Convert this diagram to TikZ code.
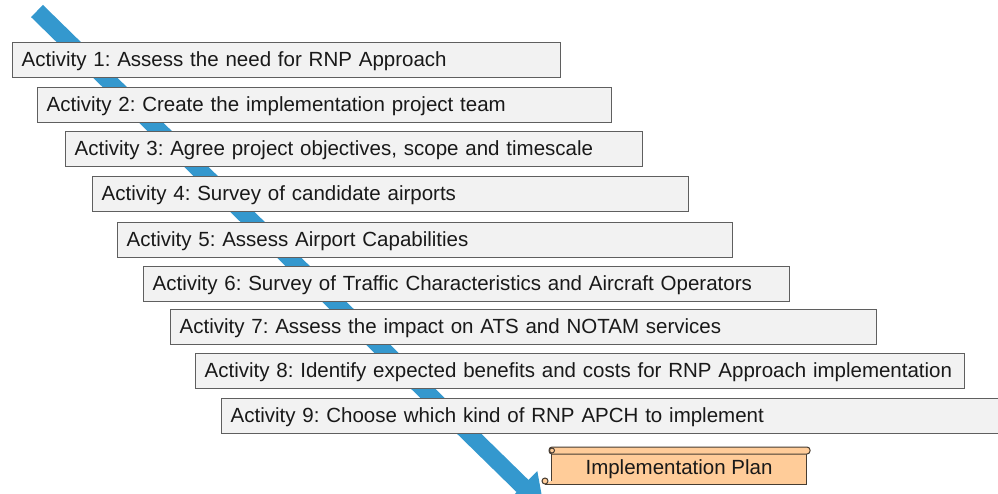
\documentclass[tikz,border=0pt]{standalone}
\usepackage{fontspec}
\setmainfont{Liberation Sans}
\usetikzlibrary{arrows.meta}
\definecolor{flowblue}{RGB}{52,152,206}
\definecolor{boxfill}{RGB}{242,242,242}
\definecolor{boxline}{RGB}{95,95,95}
\definecolor{textc}{RGB}{25,25,25}
\definecolor{peach}{RGB}{255,204,153}
\definecolor{scrollline}{RGB}{70,60,50}
\begin{document}
\frenchspacing
\begin{tikzpicture}[x=1pt,y=-1pt,
  actbox/.style={draw=boxline, fill=boxfill, line width=1.3pt, anchor=north west,
    inner xsep=9pt, inner ysep=0pt, minimum height=34.5pt, align=left,
    text height=15pt, text depth=1pt,
    font=\fontsize{20.5}{24}\selectfont, text=textc},
  scrollpart/.style={draw=scrollline, fill=peach, line width=1pt},
  plantext/.style={font=\fontsize{20.5}{24}\selectfont, text=textc, inner sep=0pt,
    text height=15pt, text depth=1pt}]
\useasboundingbox (0,0) rectangle (998,493);
\clip (0,0) rectangle (998,493);
\coordinate (arrstart) at (37,11);
\coordinate (arrtip) at (544,507);
\draw[flowblue, line width=17pt, -{Triangle[width=40pt,length=30pt]}] (arrstart) -- (arrtip);

\node[actbox, text width=530pt] (a1) at (12,42)  {Activity 1: Assess the need for RNP Approach};
\node[actbox, text width=556pt] (a2) at (37,87)  {Activity 2: Create the implementation project team};
\node[actbox, text width=559pt] (a3) at (65,131) {Activity 3: Agree project objectives, scope and timescale};
\node[actbox, text width=578pt] (a4) at (92,176) {Activity 4: Survey of candidate airports};
\node[actbox, text width=597pt] (a5) at (117,222) {Activity 5: Assess Airport Capabilities};
\node[actbox, text width=628pt] (a6) at (143,266) {Activity 6: Survey of Traffic Characteristics and Aircraft Operators};
\node[actbox, text width=688pt] (a7) at (170,309) {Activity 7: Assess the impact on ATS and NOTAM services};
\node[actbox, text width=751pt] (a8) at (195,353) {Activity 8: Identify expected benefits and costs for RNP Approach implementation};
\node[actbox, text width=782pt] (a9) at (221,398) {Activity 9: Choose which kind of RNP APCH to implement};

% scroll
\draw[scrollpart] (545,484) -- (806,484) -- (806,451) -- (551,451) -- (551,481);
\draw[scrollpart] (545,481) circle (3);
\draw[scrollpart, rounded corners=3pt] (549,447) rectangle (810,454);
\draw[scrollpart] (552,450.5) circle (2.5);
\node[plantext] (plan) at (679,467) {Implementation Plan};
\end{tikzpicture}
\end{document}
